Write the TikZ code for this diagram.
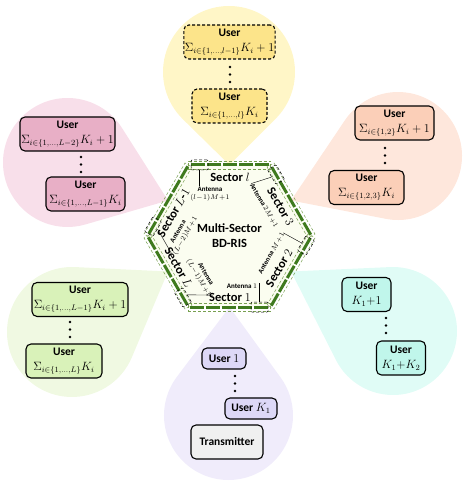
\documentclass[tikz,border=0pt]{standalone}
\usepackage{fontspec}
\setmainfont{Carlito}
\usepackage{tikz}
\usetikzlibrary{calc,positioning}
\definecolor{yellowdrop}{HTML}{FFF6C7}
\definecolor{yellowbox}{HTML}{FCE48A}
\definecolor{pinkdrop}{HTML}{F8DFEA}
\definecolor{pinkbox}{HTML}{E8AFC6}
\definecolor{orangedrop}{HTML}{FEE7DC}
\definecolor{orangebox}{HTML}{FBCFB8}
\definecolor{greendrop}{HTML}{F0F9E2}
\definecolor{greenbox}{HTML}{D9F2B9}
\definecolor{cyandrop}{HTML}{E0FCF6}
\definecolor{cyanbox}{HTML}{C0F6EB}
\definecolor{purpledrop}{HTML}{F0ECFB}
\definecolor{purplebox}{HTML}{DDD8F7}
\definecolor{txgray}{HTML}{F0F0F0}
\definecolor{hexfill}{HTML}{FBFDF0}
\definecolor{risgreen}{HTML}{3F7A1E}
\definecolor{risline}{HTML}{78A050}
\tikzstyle{userbox} = [draw, rounded corners=5pt, line width=1.1pt, align=center, inner sep=1pt, minimum height=34pt, font=\fontsize{11.5}{15}\selectfont]
\tikzstyle{antbox} = [draw, densely dashed, line width=0.5pt, minimum width=17pt, minimum height=10pt, inner sep=0pt, rounded corners=1pt]
\tikzstyle{sect} = [font=\fontsize{12.5}{14}\selectfont\bfseries, inner sep=0pt]
\tikzstyle{ant} = [font=\fontsize{7}{8}\selectfont\bfseries, align=center, inner sep=0.5pt]
\newcommand{\sectordrop}[4]{%
\fill[#1] let \p1=(#2), \p2=(#4), \n1={atan2(\y2-\y1,\x2-\x1)}, \n2={veclen(\x2-\x1,\y2-\y1)}, \n3={acos(#3/\n2)} in
 (#4) -- ($(#2)+(\n1+\n3:#3pt)$) arc[start angle=\n1+\n3, end angle=\n1-\n3+360, radius=#3pt] -- cycle;}

\begin{document}
\begin{tikzpicture}[x=1pt,y=1pt]
\useasboundingbox (0,0) rectangle (464,485);
\coordinate (ris) at (229.5,249);
\foreach \a[count=\i] in {0,60,...,300}
\coordinate (h\i) at ($(ris)+(\a:82)$);

\coordinate (cl) at (229,413);
\coordinate (c3) at (398,329);
\coordinate (c2) at (393,154);
\coordinate (c1) at (228.5,69.5);
\coordinate (cL) at (72,153);
\coordinate (cL1) at (67.5,322.5);
\sectordrop{yellowdrop}{cl}{66}{$(h2)!0.5!(h3)$}
\sectordrop{orangedrop}{c3}{64}{$(h1)!0.5!(h2)$}
\sectordrop{cyandrop}{c2}{64}{$(h6)!0.5!(h1)$}
\sectordrop{purpledrop}{c1}{64.5}{$(h5)!0.5!(h6)$}
\sectordrop{greendrop}{cL}{65}{$(h4)!0.5!(h5)$}
\sectordrop{pinkdrop}{cL1}{64.5}{$(h3)!0.5!(h4)$}

\fill[hexfill] (h1) -- (h2) -- (h3) -- (h4) -- (h5) -- (h6) -- cycle;
\foreach \a/\b in {1/2,2/3,3/4,4/5,5/6,6/1} {
\draw[risline, densely dashed, line width=0.5pt] ($(h\a)!4pt!90:(h\b)$) -- ($(h\b)!4pt!-90:(h\a)$)
 -- ($(h\b)!4pt!90:(h\a)$) -- ($(h\a)!4pt!-90:(h\b)$) -- cycle;
\draw[risgreen, line width=3pt, dash pattern=on 14pt off 2pt, shorten >=1.5pt, shorten <=1.5pt] (h\a) -- (h\b); }

\node[antbox] (ab1) at ($(h6)!11pt!(h5)$) {};
\node[antbox, rotate=60] (ab2) at ($(h1)!11pt!(h6)$) {};
\node[antbox, rotate=-60] (ab3) at ($(h2)!11pt!(h1)$) {};
\node[antbox] (abl) at ($(h3)!11pt!(h2)$) {};
\node[antbox, rotate=60] (abL1) at ($(h4)!11pt!(h3)$) {};
\node[antbox, rotate=-60] (abL) at ($(h5)!11pt!(h4)$) {};

\node[sect] (s1) at (230,188) {Sector $1$};
\node[sect, rotate=60] (s2) at (279.1,216.9) {Sector $2$};
\node[sect, rotate=-60] (s3) at (280.6,278.5) {Sector $3$};
\node[sect] (sl) at (230,308) {Sector $l$};
\node[sect, rotate=60] (sL1) at (173.5,272.1) {Sector $L$-$1$};
\node[sect, rotate=-60] (sL) at (178.5,217.3) {Sector $L$};

\node[ant] (a1) at (242,199) {Antenna $1$};
\node[ant, rotate=60] (a2) at (271.5,231.7) {Antenna $M\!+\!1$};
\node[ant, rotate=-60] (a3) at (264,279.3) {Antenna $2M\!+\!1$};
\node[ant] (al) at (210,291) {Antenna\\$(l\!-\!1)M\!+\!1$};
\node[ant, rotate=60] (aL1) at (182.1,251) {Antenna\\$(L\!-\!2)M\!+\!1$};
\node[ant, rotate=-60] (aL) at (201.9,208.8) {Antenna\\$(L\!-\!1)M\!+\!1$};
\draw[thin] (ab1.north) -- (ab1.north |- a1.north);
\draw[thin] (ab2.north) -- (a2.east);
\draw[thin] (ab3.south) -- (a3.west);
\draw[thin] (abl.south) -- (abl.south |- al.north);
\draw[thin] (abL1.south) -- (aL1.west);
\draw[thin] (abL.north) -- (aL.east);

\node[font=\fontsize{12.5}{15}\selectfont\bfseries, align=center] (title) at (ris) {Multi-Sector\\BD-RIS};

\node[userbox, fill=yellowbox, densely dashed, minimum width=91pt] (ul1) at (229.5,443) {\textbf{User}\\$\Sigma_{i\in\{1,\ldots,l-1\}}K_i+1$};
\node[userbox, fill=yellowbox, densely dashed, minimum width=75pt] (ul2) at (229.5,379) {\textbf{User}\\$\Sigma_{i\in\{1,\ldots,l\}}K_i$};
\node[userbox, fill=pinkbox, minimum width=95pt] (uL11) at (67.5,351) {\textbf{User}\\$\Sigma_{i\in\{1,\ldots,L-2\}}K_i+1$};
\node[userbox, fill=pinkbox, minimum width=79pt] (uL12) at (85.5,291) {\textbf{User}\\$\Sigma_{i\in\{1,\ldots,L-1\}}K_i$};
\node[userbox, fill=orangebox, minimum width=79pt] (u31) at (394.5,362) {\textbf{User}\\$\Sigma_{i\in\{1,2\}}K_i+1$};
\node[userbox, fill=orangebox, minimum width=75pt] (u32) at (366.5,297.5) {\textbf{User}\\$\Sigma_{i\in\{1,2,3\}}K_i$};
\node[userbox, fill=greenbox, minimum width=96pt] (uL1) at (80,185.5) {\textbf{User}\\$\Sigma_{i\in\{1,\ldots,L-1\}}K_i+1$};
\node[userbox, fill=greenbox, minimum width=76pt] (uL2) at (64,124) {\textbf{User}\\$\Sigma_{i\in\{1,\ldots,L\}}K_i$};
\node[userbox, fill=cyanbox, minimum width=49pt] (u21) at (366.5,190.5) {\textbf{User}\\$K_1{+}1$};
\node[userbox, fill=cyanbox, minimum width=49pt] (u22) at (401,127) {\textbf{User}\\$K_1{+}K_2$};
\node[userbox, fill=purplebox, minimum width=44pt, minimum height=21pt] (u11) at (224,126.5) {\textbf{User} $1$};
\node[userbox, fill=purplebox, minimum width=52pt, minimum height=21pt] (u12) at (251,76.5) {\textbf{User} $K_1$};
\node[userbox, fill=txgray, minimum width=72pt] (tx) at (227,43) {\textbf{Transmitter}};

\foreach \x/\y in {230/418,81/328,385/337,70/163,386/167,235/109} {
\foreach \k in {0,1,2}
\fill (\x,\y-7.5*\k) circle (1.3pt); }
\end{tikzpicture}
\end{document}
